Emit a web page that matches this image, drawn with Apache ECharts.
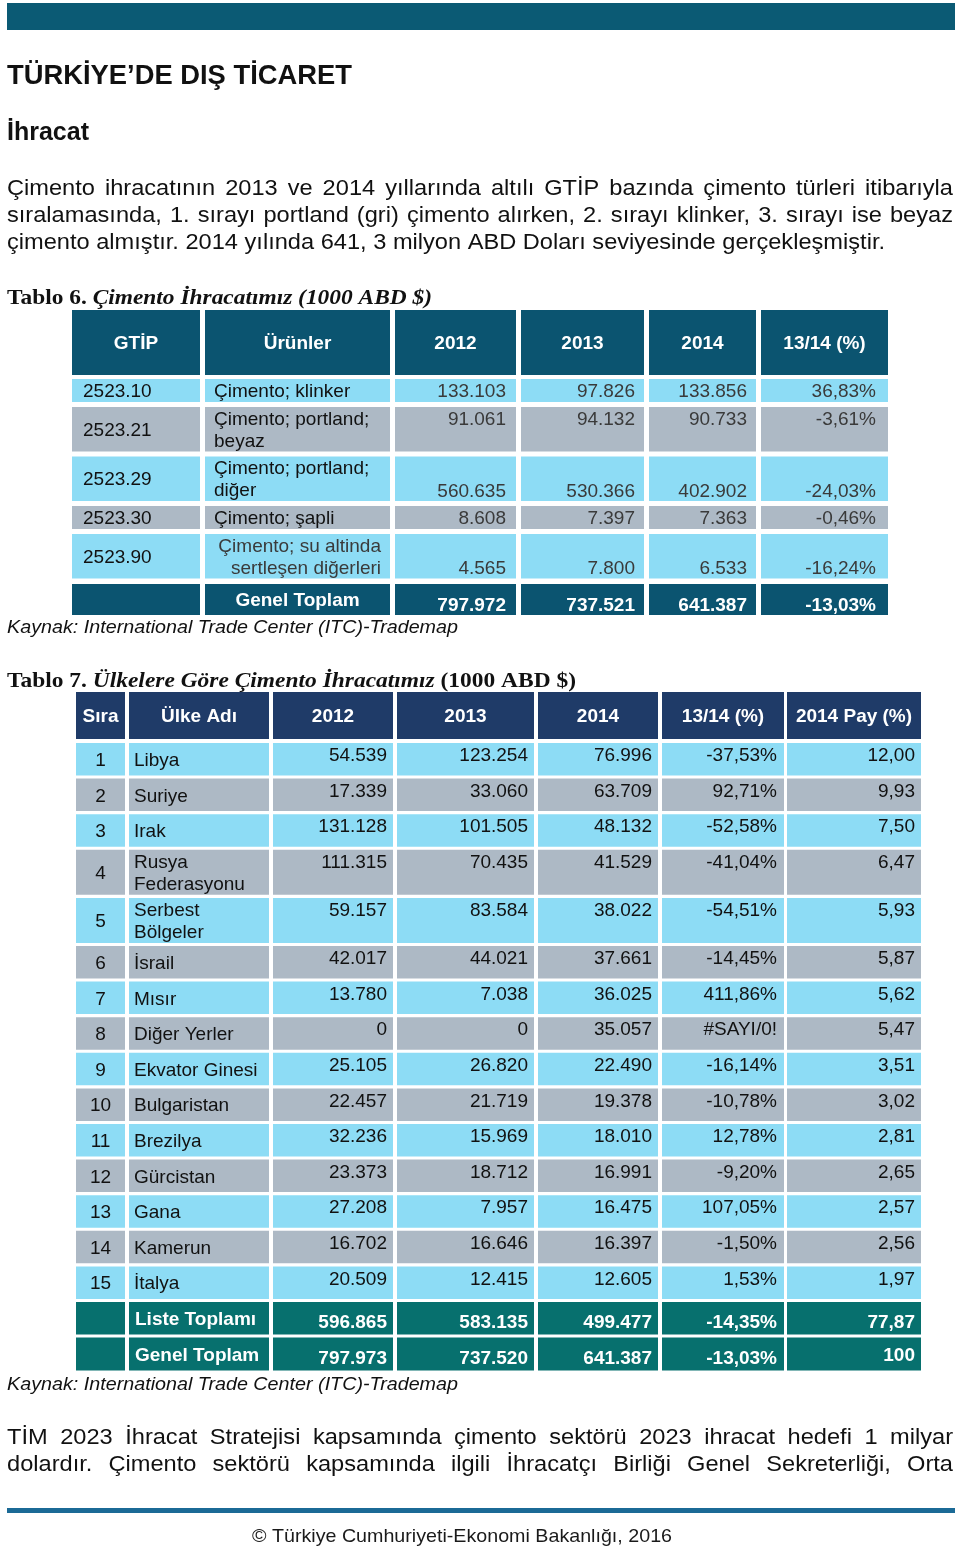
<!DOCTYPE html>
<html>
<head>
<meta charset="utf-8">
<script src="https://cdn.jsdelivr.net/npm/echarts@6/dist/echarts.min.js"></script>
<style>
html,body{margin:0;padding:0;background:#fff;}
#main{width:960px;height:1549px;}
</style>
</head>
<body>
<div id="main"></div>
<script>
// ---------------- DATA ----------------
const pageTitle = 'TÜRKİYE’DE DIŞ TİCARET';
const sectionTitle = 'İhracat';
const introLines = [
  'Çimento ihracatının 2013 ve 2014 yıllarında altılı GTİP bazında çimento türleri itibarıyla',
  'sıralamasında, 1. sırayı portland (gri) çimento alırken, 2. sırayı klinker, 3. sırayı ise beyaz',
  'çimento almıştır. 2014 yılında 641, 3 milyon ABD Doları seviyesinde gerçekleşmiştir.'
];
const outroLines = [
  'TİM 2023 İhracat Stratejisi kapsamında çimento sektörü 2023 ihracat hedefi 1 milyar',
  'dolardır. Çimento sektörü kapsamında ilgili İhracatçı Birliği Genel Sekreterliği, Orta'
];
const t6TitleParts = ['Tablo 6. ', 'Çimento İhracatımız (1000 ABD $)'];
const t7TitleParts = ['Tablo 7. ', 'Ülkelere Göre Çimento İhracatımız', ' (1000 ABD $)'];
const sourceText = 'Kaynak: International Trade Center (ITC)-Trademap';
const copyrightText = '© Türkiye Cumhuriyeti-Ekonomi Bakanlığı, 2016';

// Tablo 6
const t6Headers = ['GTİP', 'Ürünler', '2012', '2013', '2014', '13/14 (%)'];
const t6Codes = ['2523.10', '2523.21', '2523.29', '2523.30', '2523.90'];
const t6Products = ['Çimento; klinker', 'Çimento; portland;\nbeyaz', 'Çimento; portland;\ndiğer', 'Çimento; şapli', 'Çimento; su altinda\nsertleşen diğerleri'];
const t6Y2012 = [133103, 91061, 560635, 8608, 4565];
const t6Y2013 = [97826, 94132, 530366, 7397, 7800];
const t6Y2014 = [133856, 90733, 402902, 7363, 6533];
const t6Change = [36.83, -3.61, -24.03, -0.46, -16.24];
const t6TotalLabel = 'Genel Toplam';
const t6Totals = [797972, 737521, 641387, -13.03];

// Tablo 7
const t7Headers = ['Sıra', 'Ülke Adı', '2012', '2013', '2014', '13/14 (%)', '2014 Pay (%)'];
const t7Countries = ['Libya', 'Suriye', 'Irak', 'Rusya\nFederasyonu', 'Serbest\nBölgeler', 'İsrail', 'Mısır', 'Diğer Yerler', 'Ekvator Ginesi', 'Bulgaristan', 'Brezilya', 'Gürcistan', 'Gana', 'Kamerun', 'İtalya'];
const t7Y2012 = [54539, 17339, 131128, 111315, 59157, 42017, 13780, 0, 25105, 22457, 32236, 23373, 27208, 16702, 20509];
const t7Y2013 = [123254, 33060, 101505, 70435, 83584, 44021, 7038, 0, 26820, 21719, 15969, 18712, 7957, 16646, 12415];
const t7Y2014 = [76996, 63709, 48132, 41529, 38022, 37661, 36025, 35057, 22490, 19378, 18010, 16991, 16475, 16397, 12605];
const t7Change = [-37.53, 92.71, -52.58, -41.04, -54.51, -14.45, 411.86, null, -16.14, -10.78, 12.78, -9.20, 107.05, -1.50, 1.53];
const t7Pay = [12.00, 9.93, 7.50, 6.47, 5.93, 5.87, 5.62, 5.47, 3.51, 3.02, 2.81, 2.65, 2.57, 2.56, 1.97];
const t7TotalLabels = ['Liste Toplamı', 'Genel Toplam'];
const t7Tot2012 = [596865, 797973];
const t7Tot2013 = [583135, 737520];
const t7Tot2014 = [499477, 641387];
const t7TotChange = [-14.35, -13.03];
const t7TotPay = [77.87, 100];

// ---------------- STYLE / LAYOUT ----------------
const FONT_SANS = '"Liberation Sans", Arial, Helvetica, sans-serif';
const FONT_NARROW = '"Liberation Sans Narrow", "Arial Narrow", "Liberation Sans", Arial, sans-serif';
const FONT_SERIF = '"Liberation Serif", "Times New Roman", serif';
const C = {
  bar: '#0b5a74', rule: '#1b6a96', t6Head: '#0b5470', t7Head: '#1f3b68', t7Tot: '#07706e',
  blue: '#8ddcf5', gray: '#adb9c5', ink: '#111111', num: '#3a3a3a', white: '#ffffff'
};
const TEXT_DY = 1.5;

const fmtInt = v => String(v).replace(/\B(?=(\d{3})+(?!\d))/g, '.');
const fmtPct = v => v == null ? '#SAYI/0!' : v.toFixed(2).replace('.', ',') + '%';
const fmtPay = v => v.toFixed(2).replace('.', ',');
const fmtPayTot = v => (v === 100 ? '100' : fmtPay(v));

const ctx = document.createElement('canvas').getContext('2d');
function measure(text, font) { ctx.font = font; return ctx.measureText(text).width; }

// ---------- row edges ----------
function rowEdges(headH, headGap, heights, gap, totals) {
  const edges = [[0, headH]];
  let y = headH + headGap;
  heights.forEach((h) => { edges.push([y, y + h]); y += h + gap; });
  y -= gap;
  totals.forEach(t => { y += t[0]; edges.push([y, y + t[1]]); y += t[1]; });
  return edges;
}

// ---------- Table 6 cells ----------
const t6Cols = [[0, 128], [133, 318], [323, 444], [449, 572], [577, 684], [689, 816]];
const t6Rows = rowEdges(65, 4, t6Products.map(p => p.includes('\n') ? 44.5 : 23), 5, [[5.5, 31]]);
const t6NumV = ['middle', 'top', 'bottom', 'middle', 'bottom'];
const t6NumPad = [10, 9, 9, 12];
const F19 = '19px ' + FONT_SANS, F19B = 'bold 19px ' + FONT_SANS;

const t6Cells = [];
t6Headers.forEach((h, c) => t6Cells.push({c, r: 0, text: h, fill: C.t6Head, color: C.white, font: F19B, h: 'center', v: 'middle', ph: 0, pv: 0}));
t6Codes.forEach((code, i) => {
  const r = i + 1, fill = i % 2 === 0 ? C.blue : C.gray;
  t6Cells.push({c: 0, r, text: code, fill, color: C.ink, font: F19, h: 'left', v: 'middle', ph: 11, pv: 0});
  const last = t6Products[i].startsWith('Çimento; su');
  t6Cells.push({c: 1, r, text: t6Products[i], fill, color: last ? C.num : C.ink, font: F19, h: last ? 'right' : 'left', v: 'middle', ph: 9, pv: 0});
  [t6Y2012[i], t6Y2013[i], t6Y2014[i]].forEach((v, k) => t6Cells.push({c: 2 + k, r, text: fmtInt(v), fill, color: C.num, font: F19, h: 'right', v: t6NumV[i], ph: t6NumPad[k], pv: 0}));
  t6Cells.push({c: 5, r, text: fmtPct(t6Change[i]), fill, color: C.num, font: F19, h: 'right', v: t6NumV[i], ph: t6NumPad[3], pv: 0});
});
{
  const r = t6Codes.length + 1;
  t6Cells.push({c: 0, r, text: '', fill: C.t6Head});
  t6Cells.push({c: 1, r, text: t6TotalLabel, fill: C.t6Head, color: C.white, font: F19B, h: 'center', v: 'middle', ph: 0, pv: 0});
  t6Totals.forEach((v, k) => t6Cells.push({c: 2 + k, r, text: k < 3 ? fmtInt(v) : fmtPct(v), fill: C.t6Head, color: C.white, font: F19B, h: 'right', v: 'bottom', ph: t6NumPad[k], pv: 0}));
}

// ---------- Table 7 cells ----------
const t7Cols = [[0, 49], [53, 193], [197, 317], [321, 458], [462, 582], [586, 708], [711, 845]];
const t7Rows = rowEdges(47, 4, t7Countries.map(n => n.includes('\n') ? 45 : 32.5), 3.1, [[3, 32.5], [3, 33]]);
const t7Pad = [6, 6, 6, 7, 6];
const t7Cells = [];
t7Headers.forEach((h, c) => t7Cells.push({c, r: 0, text: h, fill: C.t7Head, color: C.white, font: F19B, h: 'center', v: 'middle', ph: 0, pv: 0}));
t7Countries.forEach((name, i) => {
  const r = i + 1, fill = i % 2 === 0 ? C.blue : C.gray;
  t7Cells.push({c: 0, r, text: String(i + 1), fill, color: C.ink, font: F19, h: 'center', v: 'middle', ph: 0, pv: 0});
  t7Cells.push({c: 1, r, text: name, fill, color: C.ink, font: F19, h: 'left', v: 'middle', ph: 5, pv: 0});
  const vals = [fmtInt(t7Y2012[i]), fmtInt(t7Y2013[i]), fmtInt(t7Y2014[i]), fmtPct(t7Change[i]), fmtPay(t7Pay[i])];
  vals.forEach((t, k) => t7Cells.push({c: 2 + k, r, text: t, fill, color: C.ink, font: F19, h: 'right', v: 'top', ph: t7Pad[k], pv: 0.5}));
});
t7TotalLabels.forEach((lab, j) => {
  const r = t7Countries.length + 1 + j;
  t7Cells.push({c: 0, r, text: '', fill: C.t7Tot});
  t7Cells.push({c: 1, r, text: lab, fill: C.t7Tot, color: C.white, font: F19B, h: 'left', v: 'middle', ph: 6, pv: 0});
  const vals = [fmtInt(t7Tot2012[j]), fmtInt(t7Tot2013[j]), fmtInt(t7Tot2014[j]), fmtPct(t7TotChange[j]), fmtPayTot(t7TotPay[j])];
  vals.forEach((t, k) => t7Cells.push({c: 2 + k, r, text: t, fill: C.t7Tot, color: C.white, font: F19B, h: 'right', v: (k === 4 && j === 1) ? 'middle' : 'bottom', ph: t7Pad[k], pv: 2}));
});

function makeRender(cells, cols, rows) {
  return function (params, api) {
    const cell = cells[params.dataIndex];
    const ce = cols[api.value(0)], re = rows[api.value(1)];
    const p0 = api.coord([ce[0], re[0]]), p1 = api.coord([ce[1], re[1]]);
    const x0 = p0[0], y0 = p0[1], x1 = p1[0], y1 = p1[1];
    const children = [{type: 'rect', shape: {x: x0, y: y0, width: x1 - x0, height: y1 - y0}, style: {fill: cell.fill}}];
    if (cell.text) {
      const tx = cell.h === 'left' ? x0 + cell.ph : cell.h === 'right' ? x1 - cell.ph : (x0 + x1) / 2;
      const ty = (cell.v === 'top' ? y0 + cell.pv : cell.v === 'bottom' ? y1 - cell.pv : (y0 + y1) / 2) + TEXT_DY;
      children.push({type: 'text', style: {x: tx, y: ty, text: cell.text, fill: cell.color, font: cell.font, align: cell.h, verticalAlign: cell.v, lineHeight: 22}});
    }
    return {type: 'group', children};
  };
}

// ---------- free text (graphic) ----------
const graphics = [];
graphics.push({type: 'rect', shape: {x: 7, y: 3, width: 948, height: 27}, style: {fill: C.bar}});
graphics.push({type: 'rect', shape: {x: 7, y: 1508, width: 948, height: 5}, style: {fill: C.rule}});

function fitText(text, font, x, y, width, fill) {
  const s = width / measure(text, font);
  graphics.push({type: 'text', x, y, scaleX: s, style: {x: 0, y: 0, text, font, fill, verticalAlign: 'middle'}});
}
const FP = '22px ' + FONT_NARROW;
const paraScale = 878 / measure(introLines[2], FP);
function paraLine(text, y, justify) {
  const words = text.split(' ');
  const ws = words.map(w => measure(w, FP) * paraScale);
  const total = ws.reduce((a, b) => a + b, 0);
  const gap = justify ? (946 - total) / (words.length - 1) : measure(' ', FP) * paraScale;
  let x = 7;
  words.forEach((w, i) => {
    graphics.push({type: 'text', x, y, scaleX: paraScale, style: {x: 0, y: 0, text: w, font: FP, fill: C.ink, verticalAlign: 'middle'}});
    x += ws[i] + gap;
  });
}
introLines.forEach((l, i) => paraLine(l, 189 + i * 27, i < introLines.length - 1));
outroLines.forEach((l, i) => paraLine(l, 1438 + i * 27, true));

fitText(pageTitle, 'bold 28px ' + FONT_NARROW, 7, 76, 345, C.ink);
fitText(sectionTitle, 'bold 25px ' + FONT_NARROW, 7, 133, 82, C.ink);
fitText(sourceText, 'italic 19px ' + FONT_SANS, 7, 628, 451, C.ink);
fitText(sourceText, 'italic 19px ' + FONT_SANS, 7, 1385, 451, C.ink);
fitText(copyrightText, '19px ' + FONT_NARROW, 252, 1537, 420, '#1a1a1a');

function richTitle(parts, italics, x, y, width) {
  const fUp = 'bold 22px ' + FONT_SERIF, fIt = 'italic bold 22px ' + FONT_SERIF;
  let w = 0, txt = '';
  parts.forEach((p, i) => { w += measure(p, italics[i] ? fIt : fUp); txt += '{' + (italics[i] ? 'b' : 'a') + '|' + p + '}'; });
  graphics.push({type: 'text', x, y, scaleX: width / w, style: {x: 0, y: 0, text: txt, fill: C.ink, verticalAlign: 'middle',
    rich: {a: {font: fUp, fill: C.ink}, b: {font: fIt, fill: C.ink}}}});
}
richTitle(t6TitleParts, [false, true], 7, 298, 425);
richTitle(t7TitleParts, [false, true, false], 7, 681, 569);

// ---------- chart ----------
const chart = echarts.init(document.getElementById('main'), null, {renderer: 'canvas', width: 960, height: 1549});
const axisOff = {show: false, splitLine: {show: false}};
chart.setOption({
  animation: false,
  backgroundColor: '#ffffff',
  grid: [
    {left: 72, top: 310, width: 816, height: 305},
    {left: 76, top: 692, width: 845, height: 678}
  ],
  xAxis: [
    Object.assign({type: 'value', gridIndex: 0, min: 0, max: 816}, axisOff),
    Object.assign({type: 'value', gridIndex: 1, min: 0, max: 845}, axisOff)
  ],
  yAxis: [
    Object.assign({type: 'value', gridIndex: 0, min: 0, max: 305, inverse: true}, axisOff),
    Object.assign({type: 'value', gridIndex: 1, min: 0, max: 678, inverse: true}, axisOff)
  ],
  series: [
    {type: 'custom', name: 'Tablo 6', xAxisIndex: 0, yAxisIndex: 0, clip: false, silent: true,
     renderItem: makeRender(t6Cells, t6Cols, t6Rows), data: t6Cells.map(c => [c.c, c.r])},
    {type: 'custom', name: 'Tablo 7', xAxisIndex: 1, yAxisIndex: 1, clip: false, silent: true,
     renderItem: makeRender(t7Cells, t7Cols, t7Rows), data: t7Cells.map(c => [c.c, c.r])}
  ],
  graphic: {elements: graphics}
});
</script>
</body>
</html>
